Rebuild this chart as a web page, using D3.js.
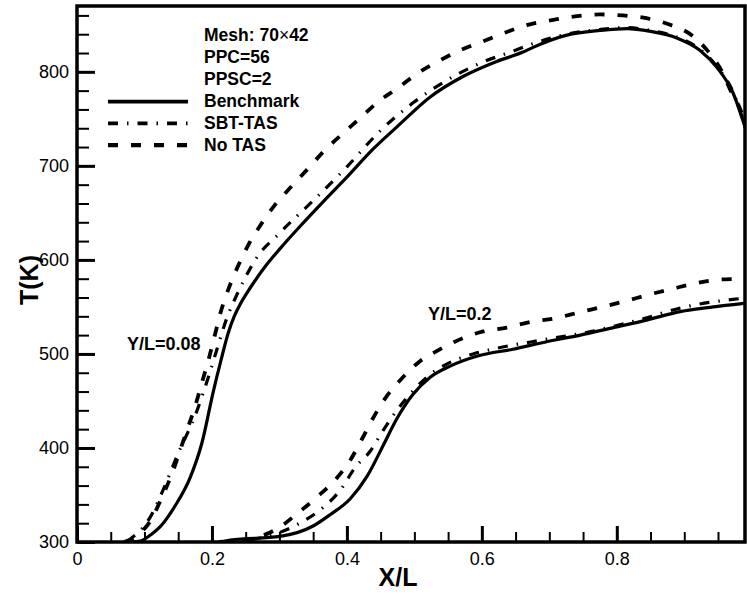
<!DOCTYPE html>
<html>
<head>
<meta charset="utf-8">
<script src="https://cdn.jsdelivr.net/npm/d3@7"></script>
<style>
  body { margin: 0; background: #fff; }
  svg { font-family: "Liberation Sans", Arial, sans-serif; }
</style>
</head>
<body>
<div id="chart"></div>
<script>
// data: [X/L, T(K)]
var bench008 = [[0.08,300],[0.094,301],[0.11,308],[0.123,316],[0.145,338],[0.168,369],[0.185,405],[0.202,460],[0.214,495],[0.224,522],[0.233,540],[0.242,553],[0.252,565],[0.263,577],[0.280,594],[0.301,612],[0.331,636],[0.365,662],[0.400,688],[0.439,718],[0.475,742],[0.523,773],[0.572,795],[0.622,811],[0.661,821],[0.676,826],[0.726,839],[0.775,844],[0.815,846],[0.850,843],[0.889,836],[0.923,823],[0.948,805],[0.972,778],[0.993,735],[1.0,720]];
var sbt008 = [[0.075,300],[0.079,303],[0.095,313],[0.109,327],[0.128,356],[0.148,391],[0.178,440],[0.195,476],[0.207,504],[0.222,538],[0.237,563],[0.250,582],[0.265,601],[0.301,629],[0.350,663],[0.400,699],[0.449,737],[0.498,767],[0.548,791],[0.597,809],[0.646,822],[0.676,830],[0.726,840],[0.775,845],[0.815,847],[0.850,844],[0.889,837],[0.923,824],[0.948,806],[0.972,779],[0.993,736],[1.0,721]];
var notas008 = [[0.07,300],[0.089,307],[0.111,325],[0.126,348],[0.141,373],[0.153,398],[0.165,423],[0.175,444],[0.185,469],[0.195,494],[0.205,522],[0.212,542],[0.225,570],[0.239,594],[0.254,616],[0.272,637],[0.294,659],[0.319,679],[0.341,696],[0.365,715],[0.395,735],[0.420,751],[0.446,768],[0.476,783],[0.506,799],[0.535,811],[0.568,823],[0.600,832],[0.632,841],[0.668,850],[0.704,855],[0.738,859],[0.775,861],[0.809,860],[0.844,857],[0.879,850],[0.911,839],[0.935,822],[0.956,800],[0.972,775],[0.983,760],[0.993,737],[1.0,722]];

var bench02 = [[0.215,300],[0.227,302],[0.301,306],[0.350,317],[0.375,329],[0.405,346],[0.430,370],[0.454,403],[0.474,431],[0.498,457],[0.523,475],[0.553,487],[0.595,498],[0.646,505],[0.696,513],[0.746,520],[0.795,528],[0.844,536],[0.894,545],[0.943,550],[0.990,554],[1.0,555]];
var sbt02 = [[0.215,300],[0.270,304],[0.300,310],[0.330,320],[0.360,334],[0.390,355],[0.412,379],[0.435,397],[0.454,419],[0.474,440],[0.497,460],[0.523,478],[0.550,490],[0.587,500],[0.622,506],[0.691,515],[0.763,524],[0.832,536],[0.901,550],[0.972,558],[1.0,560]];
var notas02 = [[0.21,300],[0.232,301],[0.272,306],[0.301,316],[0.326,330],[0.356,348],[0.385,368],[0.405,387],[0.422,409],[0.439,432],[0.457,453],[0.479,472],[0.506,491],[0.533,503],[0.560,513],[0.602,524],[0.637,528],[0.672,534],[0.709,538],[0.743,544],[0.778,550],[0.812,556],[0.847,563],[0.881,569],[0.916,575],[0.951,579],[0.985,580],[1.0,581]];

var seriesNames = ["Benchmark", "SBT-TAS", "No TAS"];
var infoLines = ["PPC=56", "PPSC=2"];
var xTicks = [0, 0.2, 0.4, 0.6, 0.8, 1];
var yTicks = [300, 400, 500, 600, 700, 800];
var xRange = [0, 0.99], yRange = [300, 870];

var width = 747, height = 594;
var margin = {left: 77, right: 2, top: 6, bottom: 52};

var svg = d3.select("#chart").append("svg")
    .attr("width", width)
    .attr("height", height);

var x = d3.scaleLinear().domain(xRange).range([margin.left, width - margin.right]);
var y = d3.scaleLinear().domain(yRange).range([height - margin.bottom, margin.top]);

// line styles
var styles = {
    "Benchmark": {dash: null, w: 3.2},
    "SBT-TAS": {dash: "10,9,1.5,9", w: 3.2},
    "No TAS": {dash: "10,13", w: 3.8}
};

svg.append("clipPath").attr("id", "plotclip")
  .append("rect")
    .attr("x", x(xRange[0])).attr("y", y(yRange[1]))
    .attr("width", x(xRange[1]) - x(xRange[0]))
    .attr("height", y(yRange[0]) - y(yRange[1]));

var lineGen = d3.line()
    .x(function(d) { return x(d[0]); })
    .y(function(d) { return y(d[1]); })
    .curve(d3.curveMonotoneX);

var curves = [
    {name: "Benchmark", data: bench008}, {name: "SBT-TAS", data: sbt008}, {name: "No TAS", data: notas008},
    {name: "Benchmark", data: bench02}, {name: "SBT-TAS", data: sbt02}, {name: "No TAS", data: notas02}
];

svg.append("g").attr("clip-path", "url(#plotclip)")
  .selectAll("path")
  .data(curves)
  .enter().append("path")
    .attr("d", function(d) { return lineGen(d.data); })
    .attr("fill", "none")
    .attr("stroke", "#000")
    .attr("stroke-width", function(d) { return styles[d.name].w; })
    .attr("stroke-dasharray", function(d) { return styles[d.name].dash; });

// minor ticks (between the majors)
var xMinor = d3.range(1, 20).map(function(i) { return i * 0.05; })
    .filter(function(d, i) { return (i + 1) % 4 !== 0; });
var yMinor = d3.range(300, 871, 20).filter(function(d) { return d % 100 !== 0; });

function fixAxis(g, w) {
    g.select(".domain").remove();
    g.selectAll(".tick line").attr("stroke", "#000").attr("stroke-width", w);
    g.attr("font-family", null).attr("font-size", 18);
}

// ticks point inward
svg.append("g")
    .attr("transform", "translate(0," + y(300) + ")")
    .call(d3.axisBottom(x).tickValues(xMinor).tickSize(-10).tickFormat(""))
    .call(fixAxis, 2);

svg.append("g")
    .attr("transform", "translate(" + x(0) + ",0)")
    .call(d3.axisLeft(y).tickValues(yMinor).tickSize(-12).tickFormat(""))
    .call(fixAxis, 2);

svg.append("g")
    .attr("transform", "translate(0," + y(300) + ")")
    .call(d3.axisBottom(x).tickValues(xTicks).tickSize(-16).tickPadding(10).tickFormat(d3.format("")))
    .call(fixAxis, 3);

svg.append("g")
    .attr("transform", "translate(" + x(0) + ",0)")
    .call(d3.axisLeft(y).tickValues(yTicks).tickSize(-18).tickPadding(8))
    .call(fixAxis, 3);

// frame
svg.append("rect")
    .attr("x", x(xRange[0])).attr("y", y(yRange[1]))
    .attr("width", x(xRange[1]) - x(xRange[0]))
    .attr("height", y(yRange[0]) - y(yRange[1]))
    .attr("fill", "none")
    .attr("stroke", "#000")
    .attr("stroke-width", 3.5);

// axis titles
svg.append("text")
    .attr("x", 398).attr("y", 586)
    .attr("text-anchor", "middle")
    .attr("font-size", 25).attr("font-weight", "bold")
    .text("X/L");

svg.append("text")
    .attr("transform", "translate(38,280) rotate(-90)")
    .attr("text-anchor", "middle")
    .attr("font-size", 25).attr("font-weight", "bold")
    .text("T(K)");

// legend block
var legend = svg.append("g")
    .attr("font-size", 17.5)
    .attr("font-weight", "bold");

var mesh = legend.append("text").attr("x", 204).attr("y", 41);
mesh.append("tspan").text("Mesh: 70");
mesh.append("tspan").attr("font-weight", "normal").text("\u00d7");
mesh.append("tspan").text("42");

legend.selectAll("text.info")
  .data(infoLines)
  .enter().append("text")
    .attr("class", "info")
    .attr("x", 204)
    .attr("y", function(d, i) { return 63 + i * 21.7; })
    .text(function(d) { return d; });

var entries = legend.selectAll("g.entry")
  .data(seriesNames)
  .enter().append("g")
    .attr("class", "entry")
    .attr("transform", function(d, i) { return "translate(0," + (101.7 + i * 21.7) + ")"; });

entries.append("line")
    .attr("x1", 108).attr("x2", 188)
    .attr("y1", 0).attr("y2", 0)
    .attr("stroke", "#000")
    .attr("stroke-width", function(d) { return styles[d].w + 0.5; })
    .attr("stroke-dasharray", function(d) { return styles[d].dash; });

entries.append("text")
    .attr("x", 204).attr("y", 5.5)
    .text(function(d) { return d; });

// curve annotations
svg.append("text")
    .attr("x", 127).attr("y", 350)
    .attr("font-size", 18).attr("font-weight", "bold")
    .text("Y/L=0.08");

svg.append("text")
    .attr("x", 428).attr("y", 320)
    .attr("font-size", 18).attr("font-weight", "bold")
    .text("Y/L=0.2");
</script>
</body>
</html>
